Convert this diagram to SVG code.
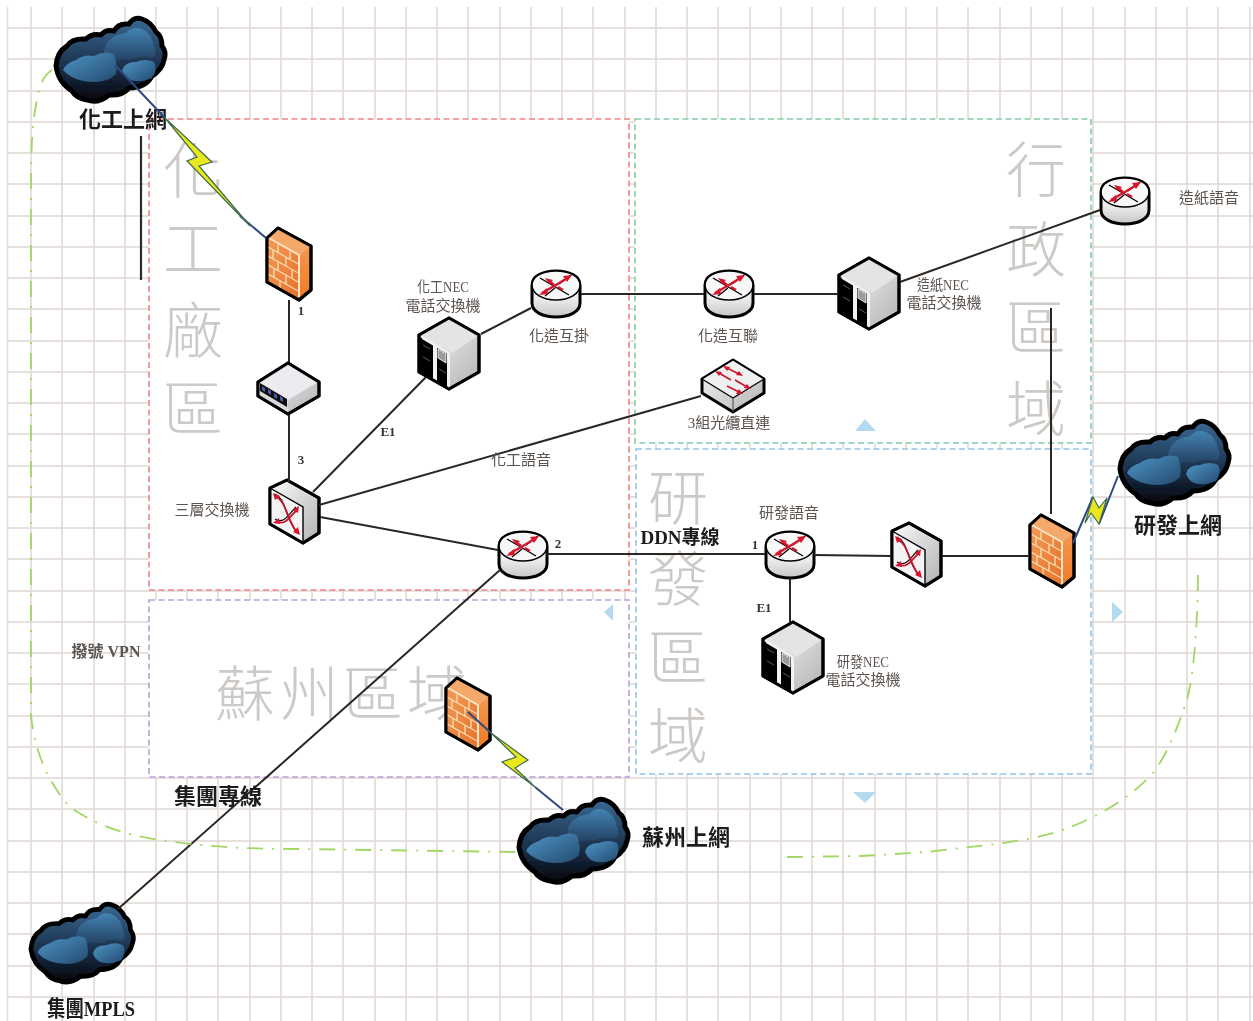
<svg xmlns="http://www.w3.org/2000/svg" width="1253" height="1021" viewBox="0 0 1253 1021">
<style>
text{font-family:"Liberation Serif","Noto Sans CJK TC",serif}
.wm{font-family:"Noto Sans CJK TC","Noto Sans CJK SC",sans-serif;font-size:60px;font-weight:300;fill:#cdc9c6;text-anchor:middle}
.big{font-size:22px;font-weight:700;fill:#1c1a1a;text-anchor:middle}
.lb{font-size:15px;fill:#5c5450;text-anchor:middle}
.num{font-size:13px;font-weight:700;fill:#3a3532;text-anchor:middle}
.region{fill:#fff;stroke-width:1.6;stroke-dasharray:6 3.5}
.wire{fill:none;stroke:#2c2623;stroke-width:2}
.bolt{fill:#e8e81c;stroke:#3e6a50;stroke-width:1.2}
.boltline{fill:none;stroke:#2f4a80;stroke-width:2}
.vpn{fill:none;stroke:#a2d665;stroke-width:1.8;stroke-dasharray:16 9 2 9}
.o{stroke:#000;stroke-width:3;stroke-linejoin:round}
.i{stroke:#000;stroke-width:1.3}
.tri{fill:#b4daf0}
.gridline{fill:none;stroke:#dfd8d4;stroke-width:1.5}
</style>
<defs>
<filter id="soft" x="0" y="0" width="100%" height="100%"><feGaussianBlur stdDeviation="0.45"/></filter>
<linearGradient id="cloudBody" x1="0" y1="0" x2="0" y2="1"><stop offset="0" stop-color="#3a6a95"/><stop offset=".6" stop-color="#1a2e48"/><stop offset="1" stop-color="#04060c"/></linearGradient>
<linearGradient id="lobe" x1="0" y1="0" x2="1" y2="1"><stop offset="0" stop-color="#4f96c6"/><stop offset="1" stop-color="#234a70"/></linearGradient>
<linearGradient id="lobe2" x1="0" y1="0" x2="0" y2="1"><stop offset="0" stop-color="#4382b2"/><stop offset="1" stop-color="#22405f"/></linearGradient>
<linearGradient id="brick" x1="0" y1="0" x2="1" y2="1"><stop offset="0" stop-color="#f29a55"/><stop offset="1" stop-color="#e8722c"/></linearGradient>
<linearGradient id="brickSide" x1="0" y1="0" x2="0" y2="1"><stop offset="0" stop-color="#f7a25e"/><stop offset="1" stop-color="#ee7a26"/></linearGradient>
<linearGradient id="rb" x1="0" y1="0" x2="0" y2="1"><stop offset="0" stop-color="#fff"/><stop offset=".6" stop-color="#eceded"/><stop offset="1" stop-color="#c4c6c7"/></linearGradient>
<linearGradient id="side" x1="0" y1="0" x2="1" y2="1"><stop offset="0" stop-color="#fafafa"/><stop offset="1" stop-color="#b0b2b4"/></linearGradient>
<g id="cloud">
<path class="o" style="stroke-width:5" fill="url(#cloudBody)" d="M2,50Q3,36 13,30Q18,22 32,23Q38,17 47,19Q52,13 60,15Q64,7 75,8Q80,0 88,3Q97,6 102,16Q108,20 108,30Q113,36 110,44Q108,54 98,60Q92,72 75,72Q68,80 55,79Q44,88 33,84Q22,82 18,75Q4,66 2,50Z"/>
<path fill="url(#lobe2)" d="M50,36Q52,20 72,17Q78,10 88,13Q98,18 100,30Q104,38 98,42Q88,38 76,44Q66,42 60,46Q52,44 50,36Z"/>
<path fill="url(#lobe)" d="M9,54Q12,47 22,44Q30,38 40,40Q50,34 60,38Q64,50 62,58Q54,66 40,66Q20,66 9,54Z"/>
<path fill="url(#lobe)" d="M68,55Q70,46 82,46Q92,42 100,46Q104,54 98,62Q84,68 74,63Q70,60 68,55Z"/>
</g>
<g id="router">
<path class="o" fill="url(#rb)" d="M1,15C1,6 12,1 25,1C38,1 49,6 49,15V33C49,42 38,47 25,47C12,47 1,42 1,33Z"/>
<path fill="#f8f8f8" stroke="#000" stroke-width="1.6" d="M1,15C1,24 12,30 25,30C38,30 49,24 49,15C49,6 38,1 25,1C12,1 1,6 1,15Z"/>
<path class="i" fill="none" d="M9,8L38,25M14,26L24,18M28,14L40,5"/>
<path stroke="#d8142a" stroke-width="2.4" fill="none" d="M11,23L25,15L38,7M18,11L23,15M27,17L32,20"/>
<path fill="#d8142a" d="M8,25L16,18L17,24ZM41,5L32,6L36,12ZM14,8L22,10L18,14Z"/>
</g>
<g id="server">
<path class="o" fill="url(#side)" d="M31,1L61,18V55L31,72L1,55V18Z"/>
<path fill="#e4e4e4" d="M31,1L61,18L34,36L3,18Z"/>
<path fill="#050505" d="M2,20L31,37V71L2,54Z"/>
<path fill="#f2f2f2" d="M4,19L31,35V38L4,22ZM15,28L19,30V65L15,63ZM29,36H32V71H29Z"/>
<path fill="#9a9c9c" stroke="#e8e8e8" stroke-width="1" d="M20,32L28,37V46L20,41Z"/>
<path stroke="#555" stroke-width="1" fill="none" d="M5,28L12,32M5,40L12,44M21,52L28,56"/>
<path class="o" fill="none" d="M31,1L61,18V55L31,72L1,55V18Z"/>
</g>
<g id="switch">
<path class="o" fill="url(#side)" d="M1,9L18,1L50,19V54L34,64L1,45Z"/>
<path fill="#f4f4f4" stroke="#000" stroke-width="1.4" d="M1,9L34,28V64L1,45Z"/>
<path fill="none" stroke="#111" stroke-width="1.3" d="M6,15C17,20 15,36 27,52M27,28C20,35 15,46 6,40"/>
<path fill="none" stroke="#c8152a" stroke-width="1.8" d="M7,18C17,22 17,38 28,54M28,31C21,37 16,48 7,42"/>
<path fill="#d8142a" d="M4,14L11,17L6,21ZM31,56L24,53L29,48ZM30,27L29,34L24,31ZM4,44L10,39L11,45Z"/>
<path class="o" fill="none" d="M1,9L18,1L50,19V54L34,64L1,45Z"/>
</g>
<g id="firewall">
<path class="o" fill="url(#brickSide)" d="M1,11L12,1L45,19V63L33,73L1,55Z"/>
<path fill="#f4a86a" d="M1,11L12,1L45,19L33,29Z"/>
<path fill="url(#brick)" d="M2,12L32,29V71L2,54Z"/>
<path fill="none" stroke="#f8e4c4" stroke-width="2" d="M3,11L33,28V70"/>
<g transform="matrix(1,.5625,0,1,2,12)" stroke="#f6dcb0" stroke-width="1.4" fill="none">
<path d="M0,8H30M0,17H30M0,26H30M0,35H30M10,0V8M22,0V8M5,8V17M18,8V17M10,17V26M24,17V26M6,26V35M18,26V35M12,35V42"/>
</g>
<path class="o" fill="none" d="M1,11L12,1L45,19V63L33,73L1,55Z"/>
</g>
<g id="modem">
<path class="o" fill="url(#side)" d="M1,20L31,1L62,20V34L31,52L1,34Z"/>
<path fill="#ececf0" d="M2,20L31,2L61,20L31,38Z"/>
<path fill="#d8d8d8" d="M2,21L31,38V51L2,34Z"/>
<path fill="#111" d="M3,21L30,37V45L3,29Z"/>
<path fill="#4a5bb4" d="M5,24L8,26V30L5,28ZM11,27L14,29V33L11,31ZM17,31L20,33V37L17,35ZM23,34L26,36V40L23,38Z"/>
<path class="o" fill="none" d="M1,20L31,1L62,20V34L31,52L1,34Z"/>
</g>
<g id="flatswitch">
<path class="o" fill="url(#side)" d="M1,20L32,1L63,20V34L32,53L1,34Z"/>
<path fill="#f0f0f0" stroke="#000" stroke-width="1.2" d="M1,20L32,1L63,20L32,39Z"/>
<path fill="none" stroke="#444" stroke-width="1" d="M32,39V53"/>
<path fill="none" stroke="#c8152a" stroke-width="1.6" d="M26,9L38,15M18,14L30,21M34,21L46,28M26,27L38,33"/>
<path fill="#d8142a" d="M22,7L29,8L26,12ZM42,17L35,16L38,12ZM14,12L21,13L18,17ZM50,30L43,29L46,25ZM42,35L35,35L38,30Z"/>
</g>
</defs>
<g filter="url(#soft)">
<rect width="1253" height="1021" fill="#fff"/>
<path class="gridline" d="M31,7V1021M62,7V1021M94,7V1021M125,7V1021M156,7V1021M187,7V1021M218,7V1021M250,7V1021M281,7V1021M312,7V1021M343,7V1021M375,7V1021M406,7V1021M437,7V1021M468,7V1021M500,7V1021M531,7V1021M562,7V1021M593,7V1021M625,7V1021M656,7V1021M687,7V1021M718,7V1021M750,7V1021M781,7V1021M812,7V1021M843,7V1021M875,7V1021M906,7V1021M937,7V1021M968,7V1021M1000,7V1021M1031,7V1021M1062,7V1021M1093,7V1021M1125,7V1021M1156,7V1021M1187,7V1021M1218,7V1021M1250,7V1021"/>
<path class="gridline" d="M7,28H1253M7,59H1253M7,91H1253M7,122H1253M7,153H1253M7,184H1253M7,216H1253M7,247H1253M7,278H1253M7,309H1253M7,341H1253M7,372H1253M7,403H1253M7,434H1253M7,466H1253M7,497H1253M7,528H1253M7,559H1253M7,591H1253M7,622H1253M7,653H1253M7,684H1253M7,716H1253M7,747H1253M7,778H1253M7,809H1253M7,841H1253M7,872H1253M7,903H1253M7,934H1253M7,966H1253M7,997H1253"/>
<path d="M7.5,7V1021" stroke="#e2dedc" stroke-width="1.6"/>

<g id="region-chem"><rect class="region" x="149" y="119" width="480" height="471" stroke="#f08484"/>
<text class="wm" x="193" y="193">化</text><text class="wm" x="193" y="271">工</text><text class="wm" x="193" y="353">廠</text><text class="wm" x="193" y="431">區</text></g>
<g id="region-admin"><rect class="region" x="635" y="119" width="456" height="324" stroke="#84cca6"/>
<text class="wm" x="1036" y="192">行</text><text class="wm" x="1036" y="272">政</text><text class="wm" x="1036" y="350">區</text><text class="wm" x="1036" y="431">域</text></g>
<g id="region-rd"><rect class="region" x="636" y="449" width="455" height="325" stroke="#92c4ea"/>
<text class="wm" x="678" y="520">研</text><text class="wm" x="678" y="601">發</text><text class="wm" x="678" y="680">區</text><text class="wm" x="678" y="758">域</text></g>
<g id="region-suzhou"><rect class="region" x="149" y="600" width="480" height="177" stroke="#b9a0da"/>
<text class="wm" x="245" y="716">蘇</text><text class="wm" x="309" y="716">州</text><text class="wm" x="373" y="716">區</text><text class="wm" x="437" y="716">域</text></g>

<path class="tri" d="M855,431L865,419L876,431Z"/>
<path class="tri" d="M613,604V621L604,612Z"/>
<path class="tri" d="M1112,602L1123,612L1112,622Z"/>
<path class="tri" d="M853,792H876L865,803Z"/>
<path d="M141,136V280" stroke="#2c2a28" stroke-width="2.2"/>

<g id="cloud-chem"><use href="#cloud" x="54" y="16"/><text class="big" x="123" y="127">化工上網</text></g>
<g id="firewall-chem"><use href="#firewall" x="266" y="227"/></g>
<g id="modem-chem"><use href="#modem" x="257" y="362"/></g>
<g id="switch-chem"><use href="#switch" x="269" y="479"/><text class="lb" x="212" y="515">三層交換機</text></g>
<g id="server-chem"><use href="#server" x="418" y="317"/><text class="lb" x="443" y="292" textLength="52" lengthAdjust="spacingAndGlyphs">化工NEC</text><text class="lb" x="443" y="311">電話交換機</text></g>
<g id="router-hz1"><use href="#router" x="531" y="270"/><text class="lb" x="559" y="341">化造互掛</text></g>
<g id="router-hz2"><use href="#router" x="704" y="270"/><text class="lb" x="728" y="341">化造互聯</text></g>
<g id="flatswitch-fiber"><use href="#flatswitch" x="701" y="359"/><text class="lb" x="729" y="428">3組光纜直連</text></g>
<g id="server-paper"><use href="#server" x="838" y="257"/><text class="lb" x="943" y="290" textLength="52" lengthAdjust="spacingAndGlyphs">造紙NEC</text><text class="lb" x="944" y="308">電話交換機</text></g>
<g id="router-paper"><use href="#router" x="1100" y="177"/><text class="lb" x="1209" y="203">造紙語音</text></g>
<g id="router-core"><use href="#router" x="498" y="531"/></g>
<g id="router-rd"><use href="#router" x="765" y="531"/><text class="lb" x="789" y="518">研發語音</text></g>
<g id="switch-rd"><use href="#switch" x="891" y="522"/></g>
<g id="firewall-rd"><use href="#firewall" x="1029" y="514"/></g>
<g id="server-rd"><use href="#server" x="762" y="621"/><text class="lb" x="863" y="667" textLength="52" lengthAdjust="spacingAndGlyphs">研發NEC</text><text class="lb" x="863" y="685">電話交換機</text></g>
<g id="cloud-rd"><use href="#cloud" x="1118" y="419"/><text class="big" x="1178" y="533">研發上網</text></g>
<g id="firewall-suzhou"><use href="#firewall" x="445" y="677"/></g>
<g id="cloud-suzhou"><use href="#cloud" x="517" y="797"/><text class="big" x="686" y="845">蘇州上網</text></g>
<g id="cloud-mpls"><use href="#cloud" transform="translate(29,902) scale(.94)"/><text class="big" x="91" y="1016" textLength="88" lengthAdjust="spacingAndGlyphs">集團MPLS</text></g>

<g id="connectors">
<path class="wire" d="M289,300V362M289,415V482M313,492L426,377M319,505L701,396M320,517L498,550M481,334L531,308M581,294H704M754,294H838M900,282L1100,210M547,554H765M814,555L891,556M942,556H1029M790,578V622M1051,308V514M500,570L118,909"/>
<path class="vpn" d="M52,70C42,76 38,90 36,105C32,125 31,150 31,190V715C35,755 50,785 70,807C95,825 125,835 160,840C205,847 250,849 300,849L517,852"/>
<path class="vpn" d="M787,857L860,856C885,855 905,853 927,852C965,847 1000,845 1037,837C1060,832 1075,826 1093,817C1120,803 1137,790 1153,773C1170,750 1178,725 1187,700C1195,670 1198,610 1198,570"/>
<path class="boltline" d="M115,65L165,118M240,216L266,238"/>
<path class="bolt" d="M165,118L212,162L199,166L250,226L187,161L197,157Z"/>
<path class="boltline" d="M1073,543L1093,497M1118,476L1099,524"/>
<path class="bolt" d="M1085,523L1093,497L1099,508L1107,498L1099,524L1091,513Z"/>
<path class="boltline" d="M468,712L491,733M535,787L563,810"/>
<path class="bolt" d="M491,733L528,760L515,768L535,787L502,762L516,757Z"/>
</g>

<g id="labels">
<text class="big" x="680" y="544" style="font-size:19px">DDN專線</text>
<text class="big" x="218" y="804">集團專線</text>
<text class="lb" x="106" y="657" style="font-weight:700;font-size:16px">撥號 VPN</text>
<text class="lb" x="521" y="465">化工語音</text>
<text class="num" x="388" y="436">E1</text>
<text class="num" x="764" y="612">E1</text>
<text class="num" x="301" y="315">1</text>
<text class="num" x="301" y="464">3</text>
<text class="num" x="558" y="548">2</text>
<text class="num" x="755" y="549">1</text>
</g>
</g>
</svg>
